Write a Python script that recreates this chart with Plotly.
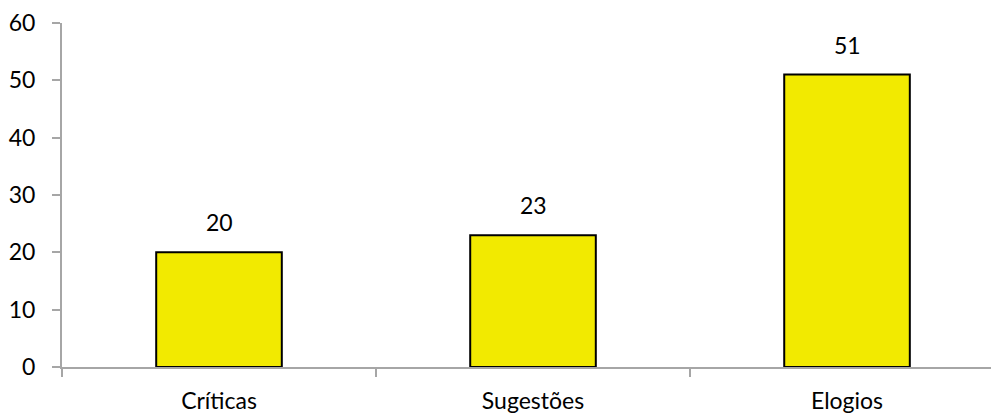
import plotly.graph_objects as go

categories = ["Críticas", "Sugestões", "Elogios"]
values = [20, 23, 51]

FONT = "Lato, 'Open Sans', sans-serif"
fig = go.Figure()
fig.add_trace(go.Bar(
    x=categories, y=values,
    width=0.4,
    marker=dict(color="#F2EA00", line=dict(color="#000000", width=2)),
    cliponaxis=False,
))
for c, v in zip(categories, values):
    fig.add_annotation(x=c, y=v, text=str(v), showarrow=False,
                       yanchor="bottom", yshift=14,
                       font=dict(size=23, color="#000000", family=FONT))

axis_color = "#A6A6A6"
fig.update_layout(
    width=991, height=406,
    margin=dict(l=54, r=0, t=14, b=42),
    plot_bgcolor="white", paper_bgcolor="white",
    font=dict(family=FONT, size=23, color="#000000"),
    showlegend=False,
    xaxis=dict(
        type="category",
        range=[-0.5, 2.484],
        tickson="boundaries",
        ticks="outside", ticklen=8, tickcolor=axis_color, tickwidth=2,
        showline=True, linecolor=axis_color, linewidth=2,
        showgrid=False,
        tickfont=dict(size=23),
        ticklabelstandoff=12,
    ),
    yaxis=dict(
        range=[0, 60], dtick=10,
        ticks="outside", ticklen=8, tickcolor=axis_color, tickwidth=2,
        showline=True, linecolor=axis_color, linewidth=2,
        showgrid=False, zeroline=False,
        tickfont=dict(size=23),
        ticklabelstandoff=12,
        ticklabeloverflow="allow",
    ),
)

fig.write_html("out.html")
